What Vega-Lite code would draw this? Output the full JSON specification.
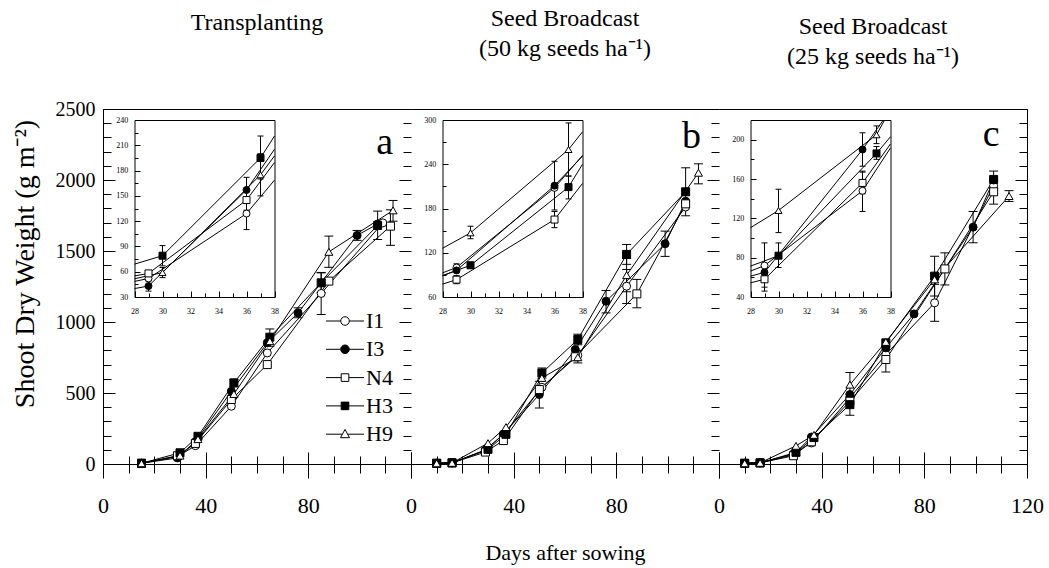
{
  "$schema": "https://vega.github.io/schema/vega-lite/v6.json",
  "padding": {"left": 10, "top": 6, "right": 10, "bottom": 5},
  "spacing": 0,
  "bounds": "flush",
  "config": {
    "view": {"stroke": null},
    "font": "Liberation Serif",
    "axis": {"domainColor": "black", "domainWidth": 1, "tickColor": "black", "tickWidth": 1, "labelColor": "black", "labelFont": "Liberation Serif", "titleFont": "Liberation Serif", "titleFontWeight": "normal", "titleColor": "black", "grid": false, "gridColor": "black", "gridOpacity": 1, "gridWidth": 1, "labelFlush": false, "labelOverlap": false},
    "title": {"font": "Liberation Serif", "fontWeight": "normal", "color": "black", "fontSize": 24, "anchor": "middle"},
    "legend": {"labelFont": "Liberation Serif"}
  },
  "resolve": {"scale": {"shape": "independent", "fill": "independent", "stroke": "independent"}, "legend": {"shape": "independent", "fill": "independent", "stroke": "independent"}},
  "datasets": {
    "main": [
      {"p":"a","s":"I1","d":15,"v":5},{"p":"a","s":"I1","d":29,"v":52},{"p":"a","s":"I1","d":36,"v":129},{"p":"a","s":"I1","d":50,"v":407},{"p":"a","s":"I1","d":64,"v":782},{"p":"a","s":"I1","d":85,"v":1201,"lo":1053,"hi":1349},{"p":"a","s":"I1","d":109,"v":1698},
      {"p":"a","s":"I3","d":15,"v":5},{"p":"a","s":"I3","d":29,"v":43},{"p":"a","s":"I3","d":36,"v":157},{"p":"a","s":"I3","d":50,"v":512},{"p":"a","s":"I3","d":64,"v":853},{"p":"a","s":"I3","d":76,"v":1064,"lo":1030,"hi":1100},{"p":"a","s":"I3","d":99,"v":1610,"lo":1575,"hi":1645},{"p":"a","s":"I3","d":107,"v":1690},
      {"p":"a","s":"N4","d":15,"v":5},{"p":"a","s":"N4","d":29,"v":58},{"p":"a","s":"N4","d":36,"v":145},{"p":"a","s":"N4","d":50,"v":454},{"p":"a","s":"N4","d":64,"v":700},{"p":"a","s":"N4","d":88,"v":1288},{"p":"a","s":"N4","d":112,"v":1675,"lo":1540,"hi":1790},
      {"p":"a","s":"H3","d":15,"v":5},{"p":"a","s":"H3","d":30,"v":79},{"p":"a","s":"H3","d":37,"v":195},{"p":"a","s":"H3","d":51,"v":571,"lo":545,"hi":597},{"p":"a","s":"H3","d":65,"v":893,"lo":829,"hi":951},{"p":"a","s":"H3","d":85,"v":1276,"lo":1206,"hi":1346},{"p":"a","s":"H3","d":107,"v":1680,"lo":1581,"hi":1781},
      {"p":"a","s":"H9","d":15,"v":5},{"p":"a","s":"H9","d":30,"v":59},{"p":"a","s":"H9","d":37,"v":175},{"p":"a","s":"H9","d":51,"v":493},{"p":"a","s":"H9","d":65,"v":865},{"p":"a","s":"H9","d":88,"v":1494,"lo":1385,"hi":1605},{"p":"a","s":"H9","d":113,"v":1786,"lo":1710,"hi":1856},

      {"p":"b","s":"I1","d":10,"v":5},{"p":"b","s":"I1","d":16,"v":8},{"p":"b","s":"I1","d":29,"v":100},{"p":"b","s":"I1","d":36,"v":208},{"p":"b","s":"I1","d":51,"v":540},{"p":"b","s":"I1","d":65,"v":765},{"p":"b","s":"I1","d":84,"v":1252,"lo":1130,"hi":1370},{"p":"b","s":"I1","d":107,"v":1810},
      {"p":"b","s":"I3","d":10,"v":5},{"p":"b","s":"I3","d":16,"v":8},{"p":"b","s":"I3","d":29,"v":96},{"p":"b","s":"I3","d":36,"v":211},{"p":"b","s":"I3","d":50,"v":489,"lo":395,"hi":583},{"p":"b","s":"I3","d":64,"v":806},{"p":"b","s":"I3","d":76,"v":1146,"lo":1064,"hi":1222},{"p":"b","s":"I3","d":99,"v":1551,"lo":1462,"hi":1640},{"p":"b","s":"I3","d":107,"v":1850},
      {"p":"b","s":"N4","d":10,"v":5},{"p":"b","s":"N4","d":16,"v":8},{"p":"b","s":"N4","d":29,"v":84},{"p":"b","s":"N4","d":36,"v":165},{"p":"b","s":"N4","d":50,"v":524},{"p":"b","s":"N4","d":64,"v":755},{"p":"b","s":"N4","d":88,"v":1198,"lo":1100,"hi":1300},{"p":"b","s":"N4","d":107,"v":1832},
      {"p":"b","s":"H3","d":10,"v":5},{"p":"b","s":"H3","d":16,"v":8},{"p":"b","s":"H3","d":30,"v":103},{"p":"b","s":"H3","d":37,"v":209},{"p":"b","s":"H3","d":51,"v":641,"lo":606,"hi":676},{"p":"b","s":"H3","d":65,"v":877,"lo":840,"hi":914},{"p":"b","s":"H3","d":84,"v":1476,"lo":1406,"hi":1546},{"p":"b","s":"H3","d":107,"v":1917,"lo":1748,"hi":2086},
      {"p":"b","s":"H9","d":10,"v":5},{"p":"b","s":"H9","d":16,"v":8},{"p":"b","s":"H9","d":30,"v":147},{"p":"b","s":"H9","d":37,"v":260},{"p":"b","s":"H9","d":51,"v":606},{"p":"b","s":"H9","d":65,"v":752,"lo":712,"hi":800},{"p":"b","s":"H9","d":84,"v":1330,"lo":1213,"hi":1447},{"p":"b","s":"H9","d":112,"v":2051,"lo":1973,"hi":2114},

      {"p":"c","s":"I1","d":10,"v":5},{"p":"c","s":"I1","d":16,"v":8},{"p":"c","s":"I1","d":29,"v":72},{"p":"c","s":"I1","d":36,"v":148},{"p":"c","s":"I1","d":51,"v":466},{"p":"c","s":"I1","d":65,"v":771},{"p":"c","s":"I1","d":84,"v":1135,"lo":1005,"hi":1265},{"p":"c","s":"I1","d":107,"v":1960},
      {"p":"c","s":"I3","d":10,"v":5},{"p":"c","s":"I3","d":16,"v":8},{"p":"c","s":"I3","d":29,"v":65},{"p":"c","s":"I3","d":36,"v":190},{"p":"c","s":"I3","d":51,"v":489},{"p":"c","s":"I3","d":65,"v":818},{"p":"c","s":"I3","d":76,"v":1057},{"p":"c","s":"I3","d":99,"v":1668,"lo":1558,"hi":1778},{"p":"c","s":"I3","d":107,"v":2000},
      {"p":"c","s":"N4","d":10,"v":5},{"p":"c","s":"N4","d":16,"v":8},{"p":"c","s":"N4","d":29,"v":58},{"p":"c","s":"N4","d":36,"v":156},{"p":"c","s":"N4","d":51,"v":442},{"p":"c","s":"N4","d":65,"v":736,"lo":648,"hi":824},{"p":"c","s":"N4","d":88,"v":1374,"lo":1261,"hi":1487},{"p":"c","s":"N4","d":107,"v":1917,"lo":1830,"hi":2000},
      {"p":"c","s":"H3","d":10,"v":5},{"p":"c","s":"H3","d":16,"v":8},{"p":"c","s":"H3","d":30,"v":82},{"p":"c","s":"H3","d":37,"v":186},{"p":"c","s":"H3","d":51,"v":418,"lo":343,"hi":493},{"p":"c","s":"H3","d":65,"v":853},{"p":"c","s":"H3","d":84,"v":1323,"lo":1183,"hi":1463},{"p":"c","s":"H3","d":107,"v":2004,"lo":1945,"hi":2063},
      {"p":"c","s":"H9","d":10,"v":5},{"p":"c","s":"H9","d":16,"v":8},{"p":"c","s":"H9","d":30,"v":128},{"p":"c","s":"H9","d":37,"v":205},{"p":"c","s":"H9","d":51,"v":559,"lo":474,"hi":644},{"p":"c","s":"H9","d":65,"v":860},{"p":"c","s":"H9","d":84,"v":1300},{"p":"c","s":"H9","d":113,"v":1887,"lo":1849,"hi":1925}
    ],
    "ins": [
      {"p":"a","s":"I1","d":28,"v":48.5,"pt":0},{"p":"a","s":"I1","d":29,"v":52,"pt":1},{"p":"a","s":"I1","d":36,"v":129,"pt":1,"lo":110,"hi":148},{"p":"a","s":"I1","d":38,"v":168.7,"pt":0},
      {"p":"a","s":"I3","d":28,"v":40,"pt":0},{"p":"a","s":"I3","d":29,"v":43,"pt":1,"lo":37,"hi":49},{"p":"a","s":"I3","d":36,"v":157,"pt":1,"lo":142,"hi":172},{"p":"a","s":"I3","d":38,"v":205.3,"pt":0},
      {"p":"a","s":"N4","d":28,"v":55,"pt":0},{"p":"a","s":"N4","d":29,"v":58,"pt":1},{"p":"a","s":"N4","d":36,"v":145,"pt":1,"lo":133,"hi":158},{"p":"a","s":"N4","d":38,"v":189.6,"pt":0},
      {"p":"a","s":"H3","d":28,"v":69,"pt":0},{"p":"a","s":"H3","d":30,"v":79,"pt":1,"lo":67,"hi":91},{"p":"a","s":"H3","d":37,"v":195,"pt":1,"lo":170,"hi":221},{"p":"a","s":"H3","d":38,"v":221,"pt":0},
      {"p":"a","s":"H9","d":28,"v":51.6,"pt":0},{"p":"a","s":"H9","d":30,"v":59,"pt":1,"lo":53,"hi":65},{"p":"a","s":"H9","d":37,"v":175,"pt":1,"lo":150,"hi":200},{"p":"a","s":"H9","d":38,"v":197.4,"pt":0},

      {"p":"b","s":"I1","d":28,"v":92.7,"pt":0},{"p":"b","s":"I1","d":29,"v":100,"pt":1,"lo":95,"hi":105},{"p":"b","s":"I1","d":36,"v":208,"pt":1},{"p":"b","s":"I1","d":38,"v":252,"pt":0},
      {"p":"b","s":"I3","d":28,"v":88.8,"pt":0},{"p":"b","s":"I3","d":29,"v":96,"pt":1},{"p":"b","s":"I3","d":36,"v":211,"pt":1,"lo":178,"hi":244},{"p":"b","s":"I3","d":38,"v":251,"pt":0},
      {"p":"b","s":"N4","d":28,"v":77.5,"pt":0},{"p":"b","s":"N4","d":29,"v":83.5,"pt":1,"lo":78,"hi":89},{"p":"b","s":"N4","d":36,"v":165,"pt":1,"lo":154,"hi":176},{"p":"b","s":"N4","d":38,"v":214,"pt":0},
      {"p":"b","s":"H3","d":28,"v":89,"pt":0},{"p":"b","s":"H3","d":30,"v":103,"pt":1,"lo":99,"hi":107},{"p":"b","s":"H3","d":37,"v":209,"pt":1,"lo":193,"hi":224},{"p":"b","s":"H3","d":38,"v":240,"pt":0},
      {"p":"b","s":"H9","d":28,"v":126,"pt":0},{"p":"b","s":"H9","d":30,"v":147,"pt":1,"lo":139,"hi":156},{"p":"b","s":"H9","d":37,"v":260,"pt":1,"lo":224,"hi":296},{"p":"b","s":"H9","d":38,"v":284,"pt":0},

      {"p":"c","s":"I1","d":28,"v":66.3,"pt":0},{"p":"c","s":"I1","d":29,"v":72,"pt":1,"lo":50,"hi":95},{"p":"c","s":"I1","d":36,"v":148,"pt":1,"lo":127,"hi":168},{"p":"c","s":"I1","d":38,"v":191.6,"pt":0},
      {"p":"c","s":"I3","d":28,"v":61.2,"pt":0},{"p":"c","s":"I3","d":29,"v":65,"pt":1},{"p":"c","s":"I3","d":36,"v":190,"pt":1,"lo":173,"hi":207},{"p":"c","s":"I3","d":37.49,"v":220,"pt":0},
      {"p":"c","s":"N4","d":28,"v":54.4,"pt":0},{"p":"c","s":"N4","d":29,"v":58,"pt":1,"lo":46,"hi":70},{"p":"c","s":"N4","d":36,"v":156,"pt":1,"lo":145,"hi":167},{"p":"c","s":"N4","d":38,"v":195.6,"pt":0},
      {"p":"c","s":"H3","d":28,"v":71.4,"pt":0},{"p":"c","s":"H3","d":30,"v":82,"pt":1,"lo":70,"hi":95},{"p":"c","s":"H3","d":37,"v":186,"pt":1,"lo":180,"hi":193},{"p":"c","s":"H3","d":38,"v":203,"pt":0},
      {"p":"c","s":"H9","d":28,"v":110.5,"pt":0},{"p":"c","s":"H9","d":30,"v":128,"pt":1,"lo":105.5,"hi":149.6},{"p":"c","s":"H9","d":37,"v":205,"pt":1,"lo":196,"hi":214},{"p":"c","s":"H9","d":37.58,"v":220,"pt":0}
    ]
  },
  "hconcat": [
    {
      "width": 308, "height": 355,
      "title": {"text": "Transplanting", "offset": 64, "font": "Liberation Serif", "fontSize": 24, "fontWeight": "normal", "color": "black", "anchor": "middle"},
      "resolve": {"scale": {"x": "independent", "y": "independent", "shape": "independent", "fill": "independent", "stroke": "independent"}, "axis": {"x": "independent", "y": "independent"}, "legend": {"shape": "independent", "fill": "independent", "stroke": "independent"}},
      "layer": [
        {
          "data": {"name": "main"},
          "transform": [{"filter": "datum.p === 'a'"}],
          "resolve": {"axis": {"x": "independent", "y": "independent"}, "scale": {"shape": "independent", "fill": "independent", "stroke": "independent"}, "legend": {"shape": "independent", "fill": "independent", "stroke": "independent"}},
          "layer": [
            {"mark": {"type": "line", "color": "black", "strokeWidth": 1},
             "encoding": {
               "x": {"field": "d", "type": "quantitative", "scale": {"domain": [0,120], "nice": false, "zero": false},
                     "axis": {"orient": "bottom", "title": null, "values": [0,10,20,30,40,50,60,70,80,90,100,110,120], "format": "d", "labelExpr": "datum.value % 40 === 0 && datum.value < 120 ? datum.label : ''", "labelFont": "Liberation Serif", "labelFontSize": 22, "labelPadding": 17.5, "tickSize": {"condition": {"test": "datum.value % 40 === 0", "value": 14}, "value": 9}, "grid": true, "gridDash": {"condition": {"test": "datum.value % 40 === 0", "value": [0,343,12,400]}, "value": [0,347,8,400]}, "domain": true}},
               "y": {"field": "v", "type": "quantitative", "scale": {"domain": [0,2500], "nice": false, "zero": false},
                     "axis": {"orient": "left", "title": "Shoot Dry Weight (g m\u207b\u00b2)", "values": [0,100,200,300,400,500,600,700,800,900,1000,1100,1200,1300,1400,1500,1600,1700,1800,1900,2000,2100,2200,2300,2400,2500], "format": "d", "labelExpr": "datum.value % 500 === 0 ? datum.label : ''", "labelFont": "Liberation Serif", "labelFontSize": 20, "labelPadding": 8, "tickSize": 0, "grid": true, "gridDash": {"condition": {"test": "datum.value % 500 === 0", "value": [12,400]}, "value": [8,400]}, "titleFont": "Liberation Serif", "titleFontSize": 28, "titleX": -64, "titleY": 154.5, "domain": true}},
               "detail": {"field": "s"}
             }},
            {"mark": {"type": "rule", "color": "black", "strokeWidth": 1},
             "encoding": {
               "x": {"field": "d", "type": "quantitative", "scale": {"domain": [0,120], "nice": false, "zero": false}, "axis": {"orient": "top", "title": null, "labels": false, "ticks": false, "grid": false, "domain": true}},
               "y": {"field": "lo", "type": "quantitative", "scale": {"domain": [0,2500], "nice": false, "zero": false}, "axis": {"orient": "right", "title": null, "values": [0,100,200,300,400,500,600,700,800,900,1000,1100,1200,1300,1400,1500,1600,1700,1800,1900,2000,2100,2200,2300,2400,2500], "labels": false, "tickSize": 0, "grid": true, "gridDash": {"condition": {"test": "datum.value % 500 === 0", "value": [12,400]}, "value": [8,400]}, "domain": false}},
               "y2": {"field": "hi"}
             }},
            {"mark": {"type": "tick", "orient": "horizontal", "color": "black", "size": 9, "thickness": 1, "opacity": 1},
             "encoding": {
               "x": {"field": "d", "type": "quantitative", "scale": {"domain": [0,120], "nice": false, "zero": false}, "axis": null},
               "y": {"field": "lo", "type": "quantitative", "scale": {"domain": [0,2500], "nice": false, "zero": false}, "axis": null}
             }},
            {"mark": {"type": "tick", "orient": "horizontal", "color": "black", "size": 9, "thickness": 1, "opacity": 1},
             "encoding": {
               "x": {"field": "d", "type": "quantitative", "scale": {"domain": [0,120], "nice": false, "zero": false}, "axis": null},
               "y": {"field": "hi", "type": "quantitative", "scale": {"domain": [0,2500], "nice": false, "zero": false}, "axis": null}
             }},
            {"mark": {"type": "point", "stroke": "black", "strokeWidth": 1, "opacity": 1, "size": 64},
             "encoding": {
               "x": {"field": "d", "type": "quantitative", "scale": {"domain": [0,120], "nice": false, "zero": false}, "axis": null},
               "y": {"field": "v", "type": "quantitative", "scale": {"domain": [0,2500], "nice": false, "zero": false}, "axis": null},
               "shape": {"field": "s", "type": "nominal", "scale": {"domain": ["I1","I3","N4","H3","H9"], "range": ["circle","circle","square","square","triangle-up"]}, "legend": null},
               "fill": {"field": "s", "type": "nominal", "scale": {"domain": ["I1","I3","N4","H3","H9"], "range": ["white","black","white","black","white"]}, "legend": null}
             }},
            {"data": {"values": [{"t": "a"}]},
             "mark": {"type": "text", "fontSize": 38, "font": "Liberation Serif", "align": "right", "baseline": "alphabetic", "color": "black"},
             "encoding": {
               "text": {"field": "t"},
               "x": {"datum": 113, "type": "quantitative", "scale": {"domain": [0,120], "nice": false, "zero": false}, "axis": null},
               "y": {"datum": 2180, "type": "quantitative", "scale": {"domain": [0,2500], "nice": false, "zero": false}, "axis": null}
             }},
            {"mark": {"type": "point", "strokeWidth": 1, "opacity": 0},
             "encoding": {
               "x": {"field": "d", "type": "quantitative", "scale": {"domain": [0,120], "nice": false, "zero": false}, "axis": null},
               "y": {"field": "v", "type": "quantitative", "scale": {"domain": [0,2500], "nice": false, "zero": false}, "axis": null},
               "shape": {"field": "s", "type": "nominal",
                 "scale": {"domain": ["I1","I3","N4","H3","H9"], "range": [
                   "M-1.9,0H-0.43M0.43,0H1.9M0.43,0A0.43,0.43,0,1,1,-0.43,0A0.43,0.43,0,1,1,0.43,0Z",
                   "M-1.9,0H-0.43M0.43,0H1.9M0.43,0A0.43,0.43,0,1,1,-0.43,0A0.43,0.43,0,1,1,0.43,0Z",
                   "M-1.9,0H-0.38M0.38,0H1.9M-0.38,-0.38H0.38V0.38H-0.38Z",
                   "M-1.9,0H-0.38M0.38,0H1.9M-0.38,-0.38H0.38V0.38H-0.38Z",
                   "M-1.9,0H-0.26M0.26,0H1.9M0,-0.48L0.45,0.35L-0.45,0.35Z"]},
                 "legend": {"title": null, "orient": "none", "legendX": 231, "legendY": 201, "direction": "vertical", "symbolSize": 400, "symbolStrokeWidth": 1, "symbolStrokeColor": "black", "symbolOpacity": 1, "labelFont": "Liberation Serif", "labelFontSize": 22, "labelColor": "black", "labelOffset": 10, "rowPadding": 6.3, "padding": 0}},
               "fill": {"field": "s", "type": "nominal", "scale": {"domain": ["I1","I3","N4","H3","H9"], "range": ["white","black","white","black","white"]},
                 "legend": {"title": null, "orient": "none", "legendX": 231, "legendY": 201, "direction": "vertical", "symbolSize": 400, "symbolStrokeWidth": 1, "symbolStrokeColor": "black", "symbolOpacity": 1, "labelFont": "Liberation Serif", "labelFontSize": 22, "labelColor": "black", "labelOffset": 10, "rowPadding": 6.3, "padding": 0}},
               "stroke": {"field": "s", "type": "nominal", "scale": {"domain": ["I1","I3","N4","H3","H9"], "range": ["black","black","black","black","black"]},
                 "legend": {"title": null, "orient": "none", "legendX": 231, "legendY": 201, "direction": "vertical", "symbolSize": 400, "symbolStrokeWidth": 1, "symbolOpacity": 1, "labelFont": "Liberation Serif", "labelFontSize": 22, "labelColor": "black", "labelOffset": 10, "rowPadding": 6.3, "padding": 0}}
             }}
          ]
        },
        {
          "data": {"name": "ins"},
          "transform": [{"filter": "datum.p === 'a'"}],
          "resolve": {"axis": {"x": "independent", "y": "independent"}},
          "layer": [
            {"mark": {"type": "line", "color": "black", "strokeWidth": 1},
             "encoding": {
               "x": {"field": "d", "type": "quantitative", "scale": {"domain": [28,38], "range": [31.5,171.5], "nice": false, "zero": false},
                     "axis": {"orient": "bottom", "offset": -167, "title": null, "values": [28,29,30,31,32,33,34,35,36,37,38], "format": "d", "labelExpr": "datum.value % 2 === 0 ? datum.label : ''", "labelFont": "Liberation Serif", "labelFontSize": 8, "labelPadding": 16.7, "tickSize": {"condition": {"test": "datum.value % 2 === 0", "value": -6}, "value": -4}, "grid": false, "domain": true}},
               "y": {"field": "v", "type": "quantitative", "scale": {"domain": [30,240], "range": [188,11], "nice": false, "zero": false},
                     "axis": {"orient": "left", "offset": -31.5, "title": null, "values": [30,45,60,75,90,105,120,135,150,165,180,195,210,225,240], "format": "d", "labelExpr": "datum.value % 30 === 0 ? datum.label : ''", "labelFont": "Liberation Serif", "labelFontSize": 8, "labelPadding": 12.2, "tickSize": {"condition": {"test": "datum.value % 30 === 0", "value": -5.5}, "value": -3.5}, "grid": false, "domain": true}},
               "detail": {"field": "s"}
             }},
            {"mark": {"type": "rule", "color": "black", "strokeWidth": 1},
             "encoding": {
               "x": {"field": "d", "type": "quantitative", "scale": {"domain": [28,38], "range": [31.5,171.5], "nice": false, "zero": false}, "axis": {"orient": "top", "offset": -11, "title": null, "labels": false, "ticks": false, "grid": false, "domain": true}},
               "y": {"field": "lo", "type": "quantitative", "scale": {"domain": [30,240], "range": [188,11], "nice": false, "zero": false}, "axis": {"orient": "right", "offset": -136.5, "title": null, "labels": false, "ticks": false, "grid": false, "domain": true}},
               "y2": {"field": "hi"}
             }},
            {"mark": {"type": "tick", "orient": "horizontal", "color": "black", "size": 6, "thickness": 1, "opacity": 1},
             "encoding": {
               "x": {"field": "d", "type": "quantitative", "scale": {"domain": [28,38], "range": [31.5,171.5], "nice": false, "zero": false}, "axis": null},
               "y": {"field": "lo", "type": "quantitative", "scale": {"domain": [30,240], "range": [188,11], "nice": false, "zero": false}, "axis": null}
             }},
            {"mark": {"type": "tick", "orient": "horizontal", "color": "black", "size": 6, "thickness": 1, "opacity": 1},
             "encoding": {
               "x": {"field": "d", "type": "quantitative", "scale": {"domain": [28,38], "range": [31.5,171.5], "nice": false, "zero": false}, "axis": null},
               "y": {"field": "hi", "type": "quantitative", "scale": {"domain": [30,240], "range": [188,11], "nice": false, "zero": false}, "axis": null}
             }},
            {"transform": [{"filter": "datum.pt === 1"}],
             "mark": {"type": "point", "stroke": "black", "strokeWidth": 1, "opacity": 1, "size": 49},
             "encoding": {
               "x": {"field": "d", "type": "quantitative", "scale": {"domain": [28,38], "range": [31.5,171.5], "nice": false, "zero": false}, "axis": null},
               "y": {"field": "v", "type": "quantitative", "scale": {"domain": [30,240], "range": [188,11], "nice": false, "zero": false}, "axis": null},
               "shape": {"field": "s", "type": "nominal", "scale": {"domain": ["I1","I3","N4","H3","H9"], "range": ["circle","circle","square","square","triangle-up"]}, "legend": null},
               "fill": {"field": "s", "type": "nominal", "scale": {"domain": ["I1","I3","N4","H3","H9"], "range": ["white","black","white","black","white"]}, "legend": null}
             }}
          ]
        }
      ]
    },
    {
      "width": 308, "height": 355,
      "title": {"text": ["Seed Broadcast", "(50 kg seeds ha\u207b\u00b9)"], "offset": 48, "lineHeight": 30, "font": "Liberation Serif", "fontSize": 24, "fontWeight": "normal", "color": "black", "anchor": "middle"},
      "resolve": {"scale": {"x": "independent", "y": "independent", "shape": "independent", "fill": "independent"}, "axis": {"x": "independent", "y": "independent"}},
      "layer": [
        {
          "data": {"name": "main"},
          "transform": [{"filter": "datum.p === 'b'"}],
          "resolve": {"axis": {"x": "independent", "y": "independent"}},
          "layer": [
            {"mark": {"type": "line", "color": "black", "strokeWidth": 1},
             "encoding": {
               "x": {"field": "d", "type": "quantitative", "scale": {"domain": [0,120], "nice": false, "zero": false},
                     "axis": {"orient": "bottom", "title": "Days after sowing", "titleFont": "Liberation Serif", "titleFontSize": 22, "titleFontWeight": "normal", "titleColor": "black", "titlePadding": 26, "values": [0,10,20,30,40,50,60,70,80,90,100,110,120], "format": "d", "labelExpr": "datum.value % 40 === 0 && datum.value < 120 ? datum.label : ''", "labelFont": "Liberation Serif", "labelFontSize": 22, "labelPadding": 17.5, "tickSize": {"condition": {"test": "datum.value % 40 === 0", "value": 14}, "value": 9}, "grid": true, "gridDash": {"condition": {"test": "datum.value % 40 === 0", "value": [0,343,12,400]}, "value": [0,347,8,400]}, "domain": true}},
               "y": {"field": "v", "type": "quantitative", "scale": {"domain": [0,2500], "nice": false, "zero": false}, "axis": null},
               "detail": {"field": "s"}
             }},
            {"mark": {"type": "rule", "color": "black", "strokeWidth": 1},
             "encoding": {
               "x": {"field": "d", "type": "quantitative", "scale": {"domain": [0,120], "nice": false, "zero": false}, "axis": {"orient": "top", "title": null, "labels": false, "ticks": false, "grid": false, "domain": true}},
               "y": {"field": "lo", "type": "quantitative", "scale": {"domain": [0,2500], "nice": false, "zero": false}, "axis": {"orient": "right", "title": null, "values": [0,100,200,300,400,500,600,700,800,900,1000,1100,1200,1300,1400,1500,1600,1700,1800,1900,2000,2100,2200,2300,2400,2500], "labels": false, "tickSize": 0, "grid": true, "gridDash": {"condition": {"test": "datum.value % 500 === 0", "value": [12,400]}, "value": [8,400]}, "domain": false}},
               "y2": {"field": "hi"}
             }},
            {"mark": {"type": "tick", "orient": "horizontal", "color": "black", "size": 9, "thickness": 1, "opacity": 1},
             "encoding": {
               "x": {"field": "d", "type": "quantitative", "scale": {"domain": [0,120], "nice": false, "zero": false}, "axis": null},
               "y": {"field": "lo", "type": "quantitative", "scale": {"domain": [0,2500], "nice": false, "zero": false}, "axis": null}
             }},
            {"mark": {"type": "tick", "orient": "horizontal", "color": "black", "size": 9, "thickness": 1, "opacity": 1},
             "encoding": {
               "x": {"field": "d", "type": "quantitative", "scale": {"domain": [0,120], "nice": false, "zero": false}, "axis": null},
               "y": {"field": "hi", "type": "quantitative", "scale": {"domain": [0,2500], "nice": false, "zero": false}, "axis": null}
             }},
            {"mark": {"type": "point", "stroke": "black", "strokeWidth": 1, "opacity": 1, "size": 64},
             "encoding": {
               "x": {"field": "d", "type": "quantitative", "scale": {"domain": [0,120], "nice": false, "zero": false}, "axis": null},
               "y": {"field": "v", "type": "quantitative", "scale": {"domain": [0,2500], "nice": false, "zero": false}, "axis": null},
               "shape": {"field": "s", "type": "nominal", "scale": {"domain": ["I1","I3","N4","H3","H9"], "range": ["circle","circle","square","square","triangle-up"]}, "legend": null},
               "fill": {"field": "s", "type": "nominal", "scale": {"domain": ["I1","I3","N4","H3","H9"], "range": ["white","black","white","black","white"]}, "legend": null}
             }},
            {"data": {"values": [{"t": "b"}]},
             "mark": {"type": "text", "fontSize": 38, "font": "Liberation Serif", "align": "right", "baseline": "alphabetic", "color": "black"},
             "encoding": {
               "text": {"field": "t"},
               "x": {"datum": 113, "type": "quantitative", "scale": {"domain": [0,120], "nice": false, "zero": false}, "axis": null},
               "y": {"datum": 2227, "type": "quantitative", "scale": {"domain": [0,2500], "nice": false, "zero": false}, "axis": null}
             }}
          ]
        },
        {
          "data": {"name": "ins"},
          "transform": [{"filter": "datum.p === 'b'"}],
          "resolve": {"axis": {"x": "independent", "y": "independent"}},
          "layer": [
            {"mark": {"type": "line", "color": "black", "strokeWidth": 1},
             "encoding": {
               "x": {"field": "d", "type": "quantitative", "scale": {"domain": [28,38], "range": [31.5,171.5], "nice": false, "zero": false},
                     "axis": {"orient": "bottom", "offset": -167, "title": null, "values": [28,29,30,31,32,33,34,35,36,37,38], "format": "d", "labelExpr": "datum.value % 2 === 0 ? datum.label : ''", "labelFont": "Liberation Serif", "labelFontSize": 8, "labelPadding": 16.7, "tickSize": {"condition": {"test": "datum.value % 2 === 0", "value": -6}, "value": -4}, "grid": false, "domain": true}},
               "y": {"field": "v", "type": "quantitative", "scale": {"domain": [60,300], "range": [188,11], "nice": false, "zero": false},
                     "axis": {"orient": "left", "offset": -31.5, "title": null, "values": [60,90,120,150,180,210,240,270,300], "format": "d", "labelExpr": "datum.value % 60 === 0 ? datum.label : ''", "labelFont": "Liberation Serif", "labelFontSize": 8, "labelPadding": 12.2, "tickSize": {"condition": {"test": "datum.value % 60 === 0", "value": -5.5}, "value": -3.5}, "grid": false, "domain": true}},
               "detail": {"field": "s"}
             }},
            {"mark": {"type": "rule", "color": "black", "strokeWidth": 1},
             "encoding": {
               "x": {"field": "d", "type": "quantitative", "scale": {"domain": [28,38], "range": [31.5,171.5], "nice": false, "zero": false}, "axis": {"orient": "top", "offset": -11, "title": null, "labels": false, "ticks": false, "grid": false, "domain": true}},
               "y": {"field": "lo", "type": "quantitative", "scale": {"domain": [60,300], "range": [188,11], "nice": false, "zero": false}, "axis": {"orient": "right", "offset": -136.5, "title": null, "labels": false, "ticks": false, "grid": false, "domain": true}},
               "y2": {"field": "hi"}
             }},
            {"mark": {"type": "tick", "orient": "horizontal", "color": "black", "size": 6, "thickness": 1, "opacity": 1},
             "encoding": {
               "x": {"field": "d", "type": "quantitative", "scale": {"domain": [28,38], "range": [31.5,171.5], "nice": false, "zero": false}, "axis": null},
               "y": {"field": "lo", "type": "quantitative", "scale": {"domain": [60,300], "range": [188,11], "nice": false, "zero": false}, "axis": null}
             }},
            {"mark": {"type": "tick", "orient": "horizontal", "color": "black", "size": 6, "thickness": 1, "opacity": 1},
             "encoding": {
               "x": {"field": "d", "type": "quantitative", "scale": {"domain": [28,38], "range": [31.5,171.5], "nice": false, "zero": false}, "axis": null},
               "y": {"field": "hi", "type": "quantitative", "scale": {"domain": [60,300], "range": [188,11], "nice": false, "zero": false}, "axis": null}
             }},
            {"transform": [{"filter": "datum.pt === 1"}],
             "mark": {"type": "point", "stroke": "black", "strokeWidth": 1, "opacity": 1, "size": 49},
             "encoding": {
               "x": {"field": "d", "type": "quantitative", "scale": {"domain": [28,38], "range": [31.5,171.5], "nice": false, "zero": false}, "axis": null},
               "y": {"field": "v", "type": "quantitative", "scale": {"domain": [60,300], "range": [188,11], "nice": false, "zero": false}, "axis": null},
               "shape": {"field": "s", "type": "nominal", "scale": {"domain": ["I1","I3","N4","H3","H9"], "range": ["circle","circle","square","square","triangle-up"]}, "legend": null},
               "fill": {"field": "s", "type": "nominal", "scale": {"domain": ["I1","I3","N4","H3","H9"], "range": ["white","black","white","black","white"]}, "legend": null}
             }}
          ]
        }
      ]
    },
    {
      "width": 308, "height": 355,
      "title": {"text": ["Seed Broadcast", "(25 kg seeds ha\u207b\u00b9)"], "offset": 40, "lineHeight": 30, "font": "Liberation Serif", "fontSize": 24, "fontWeight": "normal", "color": "black", "anchor": "middle"},
      "resolve": {"scale": {"x": "independent", "y": "independent", "shape": "independent", "fill": "independent"}, "axis": {"x": "independent", "y": "independent"}},
      "layer": [
        {
          "data": {"name": "main"},
          "transform": [{"filter": "datum.p === 'c'"}],
          "resolve": {"axis": {"x": "independent", "y": "independent"}},
          "layer": [
            {"mark": {"type": "line", "color": "black", "strokeWidth": 1},
             "encoding": {
               "x": {"field": "d", "type": "quantitative", "scale": {"domain": [0,120], "nice": false, "zero": false},
                     "axis": {"orient": "bottom", "title": null, "values": [0,10,20,30,40,50,60,70,80,90,100,110,120], "format": "d", "labelExpr": "datum.value % 40 === 0 ? datum.label : ''", "labelFont": "Liberation Serif", "labelFontSize": 22, "labelPadding": 17.5, "tickSize": {"condition": {"test": "datum.value % 40 === 0", "value": 14}, "value": 9}, "grid": true, "gridDash": {"condition": {"test": "datum.value % 40 === 0", "value": [0,343,12,400]}, "value": [0,347,8,400]}, "domain": true}},
               "y": {"field": "v", "type": "quantitative", "scale": {"domain": [0,2500], "nice": false, "zero": false}, "axis": null},
               "detail": {"field": "s"}
             }},
            {"mark": {"type": "rule", "color": "black", "strokeWidth": 1},
             "encoding": {
               "x": {"field": "d", "type": "quantitative", "scale": {"domain": [0,120], "nice": false, "zero": false}, "axis": {"orient": "top", "title": null, "labels": false, "ticks": false, "grid": false, "domain": true}},
               "y": {"field": "lo", "type": "quantitative", "scale": {"domain": [0,2500], "nice": false, "zero": false}, "axis": {"orient": "right", "title": null, "values": [0,100,200,300,400,500,600,700,800,900,1000,1100,1200,1300,1400,1500,1600,1700,1800,1900,2000,2100,2200,2300,2400,2500], "labels": false, "tickSize": 0, "grid": true, "gridDash": {"condition": {"test": "datum.value % 500 === 0", "value": [12,400]}, "value": [8,400]}, "domain": true}},
               "y2": {"field": "hi"}
             }},
            {"mark": {"type": "tick", "orient": "horizontal", "color": "black", "size": 9, "thickness": 1, "opacity": 1},
             "encoding": {
               "x": {"field": "d", "type": "quantitative", "scale": {"domain": [0,120], "nice": false, "zero": false}, "axis": null},
               "y": {"field": "lo", "type": "quantitative", "scale": {"domain": [0,2500], "nice": false, "zero": false}, "axis": null}
             }},
            {"mark": {"type": "tick", "orient": "horizontal", "color": "black", "size": 9, "thickness": 1, "opacity": 1},
             "encoding": {
               "x": {"field": "d", "type": "quantitative", "scale": {"domain": [0,120], "nice": false, "zero": false}, "axis": null},
               "y": {"field": "hi", "type": "quantitative", "scale": {"domain": [0,2500], "nice": false, "zero": false}, "axis": null}
             }},
            {"mark": {"type": "point", "stroke": "black", "strokeWidth": 1, "opacity": 1, "size": 64},
             "encoding": {
               "x": {"field": "d", "type": "quantitative", "scale": {"domain": [0,120], "nice": false, "zero": false}, "axis": null},
               "y": {"field": "v", "type": "quantitative", "scale": {"domain": [0,2500], "nice": false, "zero": false}, "axis": null},
               "shape": {"field": "s", "type": "nominal", "scale": {"domain": ["I1","I3","N4","H3","H9"], "range": ["circle","circle","square","square","triangle-up"]}, "legend": null},
               "fill": {"field": "s", "type": "nominal", "scale": {"domain": ["I1","I3","N4","H3","H9"], "range": ["white","black","white","black","white"]}, "legend": null}
             }},
            {"data": {"values": [{"t": "c"}]},
             "mark": {"type": "text", "fontSize": 38, "font": "Liberation Serif", "align": "right", "baseline": "alphabetic", "color": "black"},
             "encoding": {
               "text": {"field": "t"},
               "x": {"datum": 109.3, "type": "quantitative", "scale": {"domain": [0,120], "nice": false, "zero": false}, "axis": null},
               "y": {"datum": 2239, "type": "quantitative", "scale": {"domain": [0,2500], "nice": false, "zero": false}, "axis": null}
             }}
          ]
        },
        {
          "data": {"name": "ins"},
          "transform": [{"filter": "datum.p === 'c'"}],
          "resolve": {"axis": {"x": "independent", "y": "independent"}},
          "layer": [
            {"mark": {"type": "line", "color": "black", "strokeWidth": 1},
             "encoding": {
               "x": {"field": "d", "type": "quantitative", "scale": {"domain": [28,38], "range": [31.5,171.5], "nice": false, "zero": false},
                     "axis": {"orient": "bottom", "offset": -167, "title": null, "values": [28,29,30,31,32,33,34,35,36,37,38], "format": "d", "labelExpr": "datum.value % 2 === 0 ? datum.label : ''", "labelFont": "Liberation Serif", "labelFontSize": 8, "labelPadding": 16.7, "tickSize": {"condition": {"test": "datum.value % 2 === 0", "value": -6}, "value": -4}, "grid": false, "domain": true}},
               "y": {"field": "v", "type": "quantitative", "scale": {"domain": [40,220], "range": [188,11], "nice": false, "zero": false},
                     "axis": {"orient": "left", "offset": -31.5, "title": null, "values": [40,60,80,100,120,140,160,180,200,220], "format": "d", "labelExpr": "datum.value % 40 === 0 ? datum.label : ''", "labelFont": "Liberation Serif", "labelFontSize": 8, "labelPadding": 12.2, "tickSize": {"condition": {"test": "datum.value % 40 === 0", "value": -5.5}, "value": -3.5}, "grid": false, "domain": true}},
               "detail": {"field": "s"}
             }},
            {"mark": {"type": "rule", "color": "black", "strokeWidth": 1},
             "encoding": {
               "x": {"field": "d", "type": "quantitative", "scale": {"domain": [28,38], "range": [31.5,171.5], "nice": false, "zero": false}, "axis": {"orient": "top", "offset": -11, "title": null, "labels": false, "ticks": false, "grid": false, "domain": true}},
               "y": {"field": "lo", "type": "quantitative", "scale": {"domain": [40,220], "range": [188,11], "nice": false, "zero": false}, "axis": {"orient": "right", "offset": -136.5, "title": null, "labels": false, "ticks": false, "grid": false, "domain": true}},
               "y2": {"field": "hi"}
             }},
            {"mark": {"type": "tick", "orient": "horizontal", "color": "black", "size": 6, "thickness": 1, "opacity": 1},
             "encoding": {
               "x": {"field": "d", "type": "quantitative", "scale": {"domain": [28,38], "range": [31.5,171.5], "nice": false, "zero": false}, "axis": null},
               "y": {"field": "lo", "type": "quantitative", "scale": {"domain": [40,220], "range": [188,11], "nice": false, "zero": false}, "axis": null}
             }},
            {"mark": {"type": "tick", "orient": "horizontal", "color": "black", "size": 6, "thickness": 1, "opacity": 1},
             "encoding": {
               "x": {"field": "d", "type": "quantitative", "scale": {"domain": [28,38], "range": [31.5,171.5], "nice": false, "zero": false}, "axis": null},
               "y": {"field": "hi", "type": "quantitative", "scale": {"domain": [40,220], "range": [188,11], "nice": false, "zero": false}, "axis": null}
             }},
            {"transform": [{"filter": "datum.pt === 1"}],
             "mark": {"type": "point", "stroke": "black", "strokeWidth": 1, "opacity": 1, "size": 49},
             "encoding": {
               "x": {"field": "d", "type": "quantitative", "scale": {"domain": [28,38], "range": [31.5,171.5], "nice": false, "zero": false}, "axis": null},
               "y": {"field": "v", "type": "quantitative", "scale": {"domain": [40,220], "range": [188,11], "nice": false, "zero": false}, "axis": null},
               "shape": {"field": "s", "type": "nominal", "scale": {"domain": ["I1","I3","N4","H3","H9"], "range": ["circle","circle","square","square","triangle-up"]}, "legend": null},
               "fill": {"field": "s", "type": "nominal", "scale": {"domain": ["I1","I3","N4","H3","H9"], "range": ["white","black","white","black","white"]}, "legend": null}
             }}
          ]
        }
      ]
    }
  ]
}
